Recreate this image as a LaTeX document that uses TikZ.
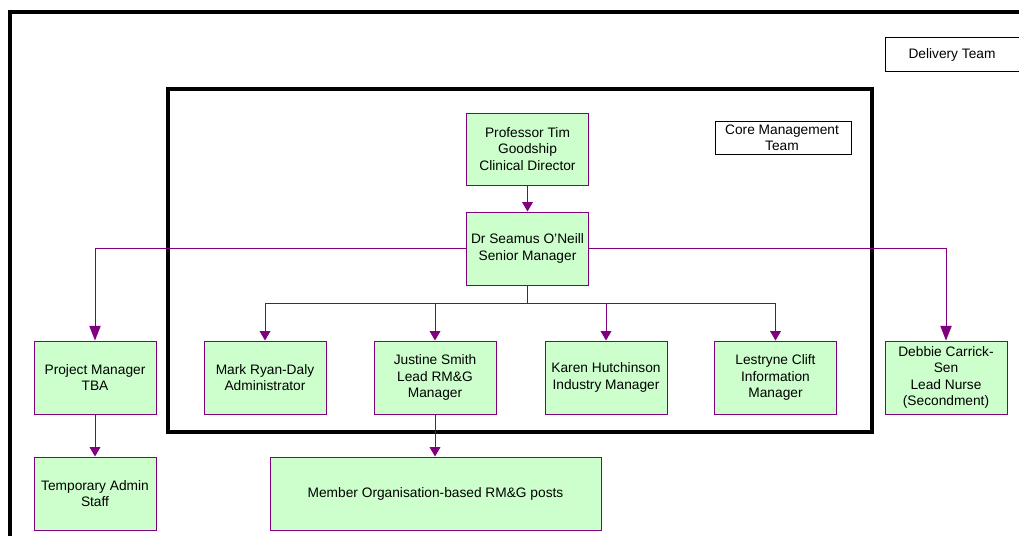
\documentclass[tikz,border=0pt]{standalone}
\usepackage{fontspec}
\setmainfont{Liberation Sans}
\usetikzlibrary{arrows.meta}
\definecolor{purp}{HTML}{800080}
\definecolor{boxgreen}{HTML}{CCFFCC}
\tikzset{
  orgbox/.style={draw=purp, fill=boxgreen, line width=0.75pt, minimum width=91.5pt, minimum height=54.75pt, inner sep=0pt, align=center, font=\fontsize{10.3}{12.3}\selectfont},
  labelbox/.style={draw=black, line width=0.75pt},
  labeltext/.style={align=center, inner sep=0pt, font=\fontsize{10.3}{12.3}\selectfont},
  frame/.style={draw=black, line width=2.4pt},
  conn/.style={draw=purp, line width=0.75pt},
  arr/.style={conn, -{Triangle[length=7pt,width=8pt]}},
  bigarr/.style={conn, -{Triangle[length=11pt,width=8.5pt]}},
}
\begin{document}
\begin{tikzpicture}[x=0.75pt,y=-0.75pt]
\useasboundingbox (0,0) rectangle (1019,535);
\clip (0,0) rectangle (1019,535);
% outer frame
\draw[frame] (10,545) -- (10,12) -- (1030,12);
% inner frame (core management)
\draw[frame] (168,89) rectangle (872,432);
% label boxes
\draw[labelbox] (885,38) rectangle (1030,71);
\node[labeltext] (delivery) at (952,54.5) {Delivery Team};
\draw[labelbox] (715,121) rectangle (851,154);
\node[labeltext] (core) at (782,137.5) {Core Management\\Team};
% nodes
\node[orgbox, minimum height=54pt] (prof) at (527.5,149) {Professor Tim\\Goodship\\Clinical Director};
\node[orgbox] (seamus) at (527.5,248.5) {Dr Seamus O’Neill\\Senior Manager};
\node[orgbox] (pm) at (95,377.5) {Project Manager\\TBA};
\node[orgbox] (mark) at (265,377.5) {Mark Ryan-Daly\\Administrator};
\node[orgbox] (justine) at (435,377.5) {Justine Smith\\Lead RM\&G\\Manager};
\node[orgbox] (karen) at (606,377.5) {Karen Hutchinson\\Industry Manager};
\node[orgbox] (lestryne) at (775.5,377.5) {Lestryne Clift\\Information\\Manager};
\node[orgbox] (debbie) at (946,377.5) {Debbie Carrick-\\Sen\\Lead Nurse\\(Secondment)};
\node[orgbox] (temp) at (95,493.5) {Temporary Admin\\Staff};
\node[orgbox, minimum width=248.25pt] (member) at (435.5,493.5) {Member Organisation-based RM\&G posts};
% connectors
\draw[arr] (prof) -- (seamus);
\draw[bigarr] (seamus.west) -| (pm.north);
\draw[bigarr] (seamus.east) -| (debbie.north);
\coordinate (bus) at (527.5,303);
\draw[conn] (seamus.south) -- (bus);
\draw[arr] (bus) -| (mark.north);
\draw[arr] (bus) -| (justine.north);
\draw[arr] (bus) -| (karen.north);
\draw[arr] (bus) -| (lestryne.north);
\draw[arr] (pm) -- (temp);
\draw[arr] (justine.south) -- (justine.south |- member.north);
\end{tikzpicture}
\end{document}
